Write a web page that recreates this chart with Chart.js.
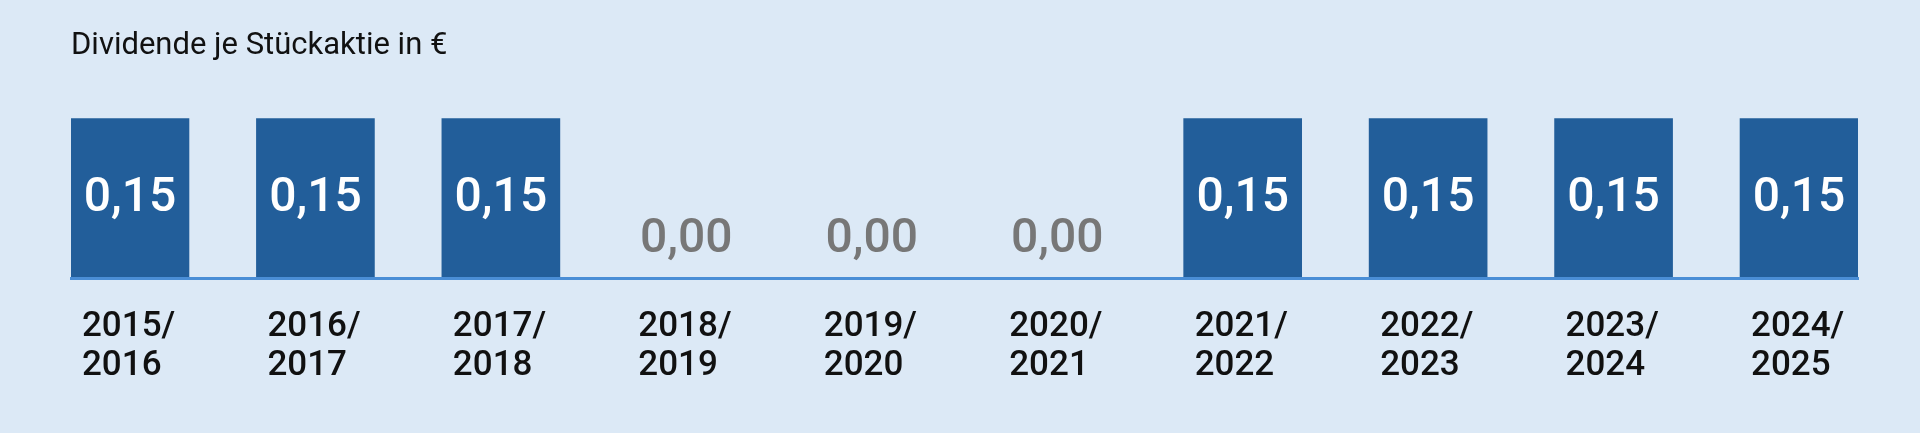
<!DOCTYPE html>
<html>
<head>
<meta charset="utf-8">
<script src="https://cdn.jsdelivr.net/npm/chart.js@4/dist/chart.umd.min.js"></script>
<style>
  html, body { margin: 0; padding: 0; background: #dce9f6; }
  #wrap { width: 1920px; height: 433px; }
</style>
</head>
<body>
<div id="wrap"><canvas id="divChart" width="1920" height="433"></canvas></div>
<script>
const chartTitle = 'Dividende je Stückaktie in €';
const years = ['2015/2016', '2016/2017', '2017/2018', '2018/2019', '2019/2020',
               '2020/2021', '2021/2022', '2022/2023', '2023/2024', '2024/2025'];
const dividends = [0.15, 0.15, 0.15, 0.00, 0.00, 0.00, 0.15, 0.15, 0.15, 0.15];

const barBlue = '#225e9a';
const lineBlue = '#4a8ed6';

// print the amount inside the bar (white) or above the baseline (grey) when zero
const valueLabels = {
    id: 'valueLabels',
    afterDatasetsDraw(chart) {
        const ctx = chart.ctx;
        const meta = chart.getDatasetMeta(0);
        const base = chart.scales.y.getPixelForValue(0);
        ctx.save();
        ctx.font = '500 48px Roboto';
        ctx.textAlign = 'center';
        ctx.textBaseline = 'middle';
        meta.data.forEach((bar, i) => {
            const v = dividends[i];
            const txt = v.toFixed(2).replace('.', ',');
            if (v > 0) {
                ctx.fillStyle = '#ffffff';
                ctx.fillText(txt, bar.x, (bar.y + base) / 2 + 1);
            } else {
                ctx.fillStyle = '#777777';
                ctx.fillText(txt, bar.x, base - 38);
            }
        });
        ctx.restore();
    }
};

const ctx = document.getElementById('divChart').getContext('2d');
new Chart(ctx, {
    type: 'bar',
    data: {
        datasets: [{
            data: dividends.map((v, i) => ({ x: i, y: v })),
            backgroundColor: barBlue,
            borderWidth: 0,
            barThickness: 118
        }]
    },
    options: {
        responsive: false,
        animation: false,
        layout: { padding: { left: 71, right: 62, top: 0, bottom: 18 } },
        plugins: {
            legend: { display: false },
            tooltip: { enabled: false },
            title: {
                display: true,
                text: chartTitle,
                align: 'start',
                color: '#111111',
                font: { family: 'Roboto', size: 31, weight: 'normal' },
                padding: { top: 28, bottom: 53 }
            }
        },
        scales: {
            x: {
                type: 'linear',
                offset: false,
                min: -0.318,
                max: years.length - 1 + 0.318,
                grid: { display: true, drawOnChartArea: false, drawTicks: false },
                border: { display: true, color: lineBlue, width: 3, z: 1 },
                // labels stay inside the canvas anyway, so no extra side padding
                afterFit: (scale) => { scale.paddingLeft = 0; scale.paddingRight = 0; },
                ticks: {
                    stepSize: 1,
                    includeBounds: false,
                    autoSkip: false,
                    maxRotation: 0,
                    align: 'start',
                    labelOffset: -48,
                    padding: 30,
                    color: '#111111',
                    font: { family: 'Roboto', size: 35, weight: '500', lineHeight: 1.1 },
                    callback: (v) => {
                        if (!Number.isInteger(v) || !years[v]) return '';
                        const parts = years[v].split('/');
                        return [parts[0] + '/', parts[1]];
                    }
                }
            },
            y: {
                display: false,
                min: 0,
                max: 0.15
            }
        }
    },
    plugins: [valueLabels]
});
</script>
</body>
</html>
